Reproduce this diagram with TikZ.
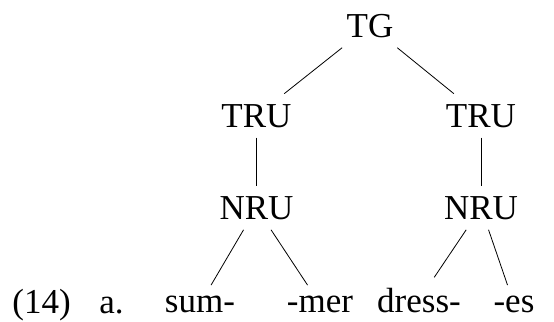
\documentclass[tikz,border=0pt]{standalone}
\usepackage{fontspec}
\setmainfont{Liberation Serif}
\usetikzlibrary{positioning}

\begin{document}
\begin{tikzpicture}[x=0.5pt,y=-0.5pt,
	every node/.style={font=\fontsize{17.5}{21}\selectfont, inner sep=5pt}]
	\useasboundingbox (0,0) rectangle (554,322);

	\node [anchor=base] (tg) at (370,37) {TG};
	\node [anchor=base] (trul) at (256.5,127) {TRU};
	\node [anchor=base] (trur) at (481,127) {TRU};
	\node [below=24pt of trul] (nrul) {NRU};
	\node [below=24pt of trur] (nrur) {NRU};
	\node [anchor=base] (sum) at (200,312) {sum-};
	\node [anchor=base] (mer) at (320,312) {-mer};
	\node [anchor=base] (dress) at (419,312) {dress-};
	\node [anchor=base] (es) at (514,312) {-es};
	\node [anchor=base west, inner sep=0pt] (num) at (12,314) {(14)};
	\node [anchor=base west, inner sep=0pt] (ex) at (99,314) {a.};
	\draw (tg) -- (trul);
	\draw (tg) -- (trur);
	\draw (trul) -- (nrul);
	\draw (trur) -- (nrur);
	\draw (nrul) -- (sum);
	\draw (nrul) -- (mer);
	\draw (nrur) -- (dress);
	\draw (nrur) -- (es);

\end{tikzpicture}
\end{document}
